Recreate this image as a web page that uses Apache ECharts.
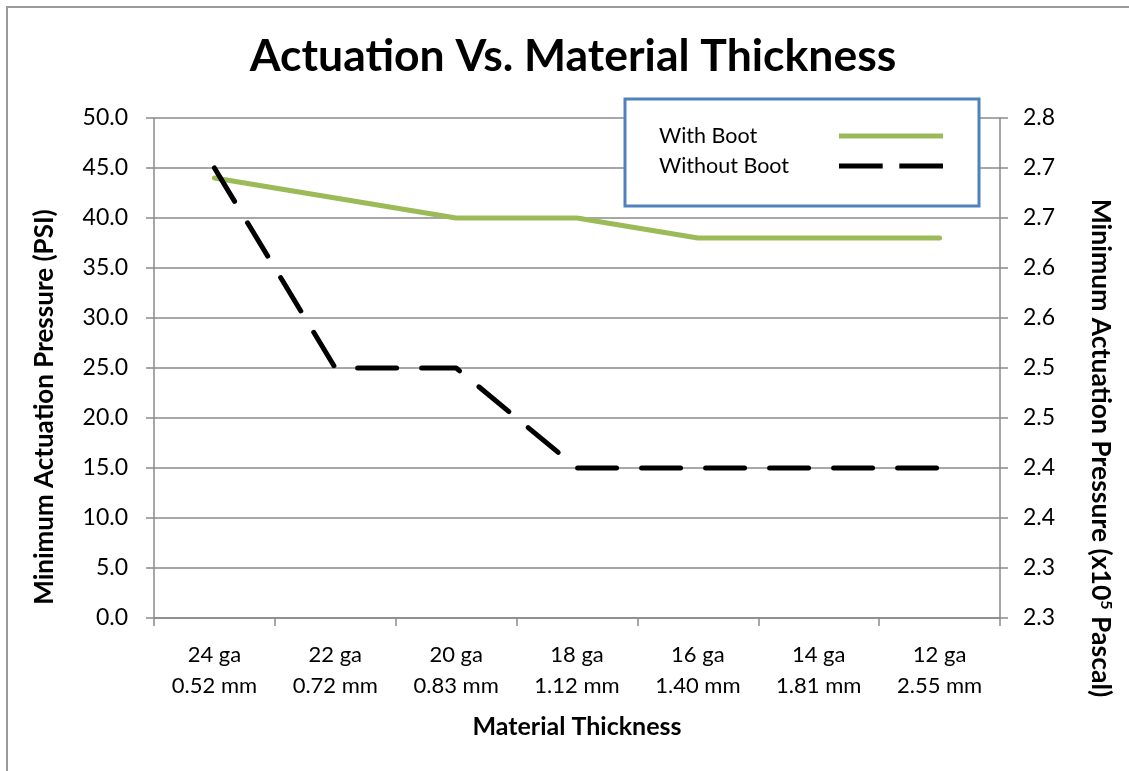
<!DOCTYPE html>
<html>
<head>
<meta charset="utf-8">
<script src="https://cdn.jsdelivr.net/npm/echarts@6/dist/echarts.min.js"></script>
<style>html,body{margin:0;padding:0;background:#fff;}#c{width:1129px;height:771px;}</style>
</head>
<body>
<div id="c"></div>
<script>
var categories = ['24 ga\n0.52 mm','22 ga\n0.72 mm','20 ga\n0.83 mm','18 ga\n1.12 mm','16 ga\n1.40 mm','14 ga\n1.81 mm','12 ga\n2.55 mm'];
var withBoot = [44, 42, 40, 40, 38, 38, 38];
var withoutBoot = [45, 25, 25, 15, 15, 15, 15];
var rightTickLabels = ['2.3','2.3','2.4','2.4','2.5','2.5','2.6','2.6','2.7','2.7','2.8'];

var FONT = 'Lato';
var chart = echarts.init(document.getElementById('c'));
var axisGray = '#8a8a8a';
chart.setOption({
  backgroundColor: '#fff',
  animation: false,
  graphic: [{
    type: 'rect', shape: {x: 7, y: 7, width: 1140, height: 800},
    style: {fill: 'none', stroke: '#9a9a9a', lineWidth: 2}, z: -1
  }],
  title: {
    text: 'Actuation Vs. Material Thickness',
    left: 568, top: 29, textAlign: 'center',
    textStyle: {fontFamily: FONT, fontWeight: 'bold', fontSize: 44.5, color: '#000'}
  },
  legend: {
    orient: 'vertical', left: 625, top: 99,
    padding: [26, 36, 29, 34],
    borderColor: '#4F81BD', borderWidth: 3,
    backgroundColor: '#fff',
    align: 'right',
    itemWidth: 104, itemHeight: 12, itemGap: 8,
    formatter: function (name) { return '{a|' + name + '}'; },
    textStyle: {fontFamily: FONT, fontSize: 21.5, color: '#000',
      rich: {a: {fontFamily: FONT, fontSize: 21.5, color: '#000', width: 175, height: 22, align: 'left'}}},
    data: [
      {name: 'With Boot', icon: 'path://M0,3.5L104,3.5L104,8.5L0,8.5Z'},
      {name: 'Without Boot', icon: 'path://M4,4L46,4L46,9L4,9ZM62,4L104,4L104,9L62,9Z'}
    ]
  },
  grid: {left: 154, right: 129, top: 118, bottom: 153, containLabel: false},
  xAxis: {
    type: 'category', data: categories, boundaryGap: true,
    name: 'Material Thickness', nameLocation: 'middle', nameGap: 96,
    nameTextStyle: {fontFamily: FONT, fontWeight: 'bold', fontSize: 25, color: '#000'},
    axisLine: {lineStyle: {color: axisGray, width: 1.5}},
    axisTick: {show: true, length: 8, alignWithLabel: false, lineStyle: {color: axisGray, width: 1.5}},
    axisLabel: {fontFamily: FONT, fontSize: 22, color: '#000', margin: 21, lineHeight: 31, interval: 0}
  },
  yAxis: [{
    type: 'value', min: 0, max: 50, interval: 5, position: 'left',
    name: 'Minimum Actuation Pressure (PSI)', nameLocation: 'middle', nameGap: 96, nameRotate: 90,
    nameTextStyle: {fontFamily: FONT, fontWeight: 'bold', fontSize: 26, color: '#000', padding: [0, 78, 0, 0]},
    axisLine: {show: true, lineStyle: {color: axisGray, width: 1.5}},
    axisTick: {show: true, length: 8, inside: false, lineStyle: {color: axisGray, width: 1.5}},
    axisLabel: {fontFamily: FONT, fontSize: 23, color: '#000', margin: 26, formatter: function (v) { return v.toFixed(1); }},
    splitLine: {show: true, lineStyle: {color: axisGray, width: 1.5}}
  }, {
    type: 'value', min: 2.3, max: 2.8, interval: 0.05, position: 'right',
    name: 'Minimum Actuation Pressure (x10{sup|5} Pascal)', nameLocation: 'middle', nameGap: 87, nameRotate: -90,
    nameTextStyle: {fontFamily: FONT, fontWeight: 'bold', fontSize: 26.5, color: '#000', padding: [0, 0, 0, 160],
      rich: {sup: {fontFamily: FONT, fontWeight: 'bold', fontSize: 16, verticalAlign: 'top', padding: [0,0,10,0]}}},
    axisLine: {show: true, lineStyle: {color: axisGray, width: 1.5}},
    axisTick: {show: true, length: 8, lineStyle: {color: axisGray, width: 1.5}},
    axisLabel: {fontFamily: FONT, fontSize: 23, color: '#000', margin: 23,
      formatter: function (v) { return rightTickLabels[Math.round((v - 2.3) / 0.05)]; }},
    splitLine: {show: false}
  }],
  series: [{
    name: 'With Boot', type: 'line', data: withBoot, yAxisIndex: 0,
    symbol: 'none', color: '#9BBB59',
    lineStyle: {color: '#9BBB59', width: 5, cap: 'round', join: 'round'}
  }, {
    name: 'Without Boot', type: 'line', data: withoutBoot, yAxisIndex: 0,
    symbol: 'none', color: '#000',
    lineStyle: {color: '#000', width: 5, type: [39, 25], cap: 'round', join: 'round'}
  }]
});
</script>
</body>
</html>
